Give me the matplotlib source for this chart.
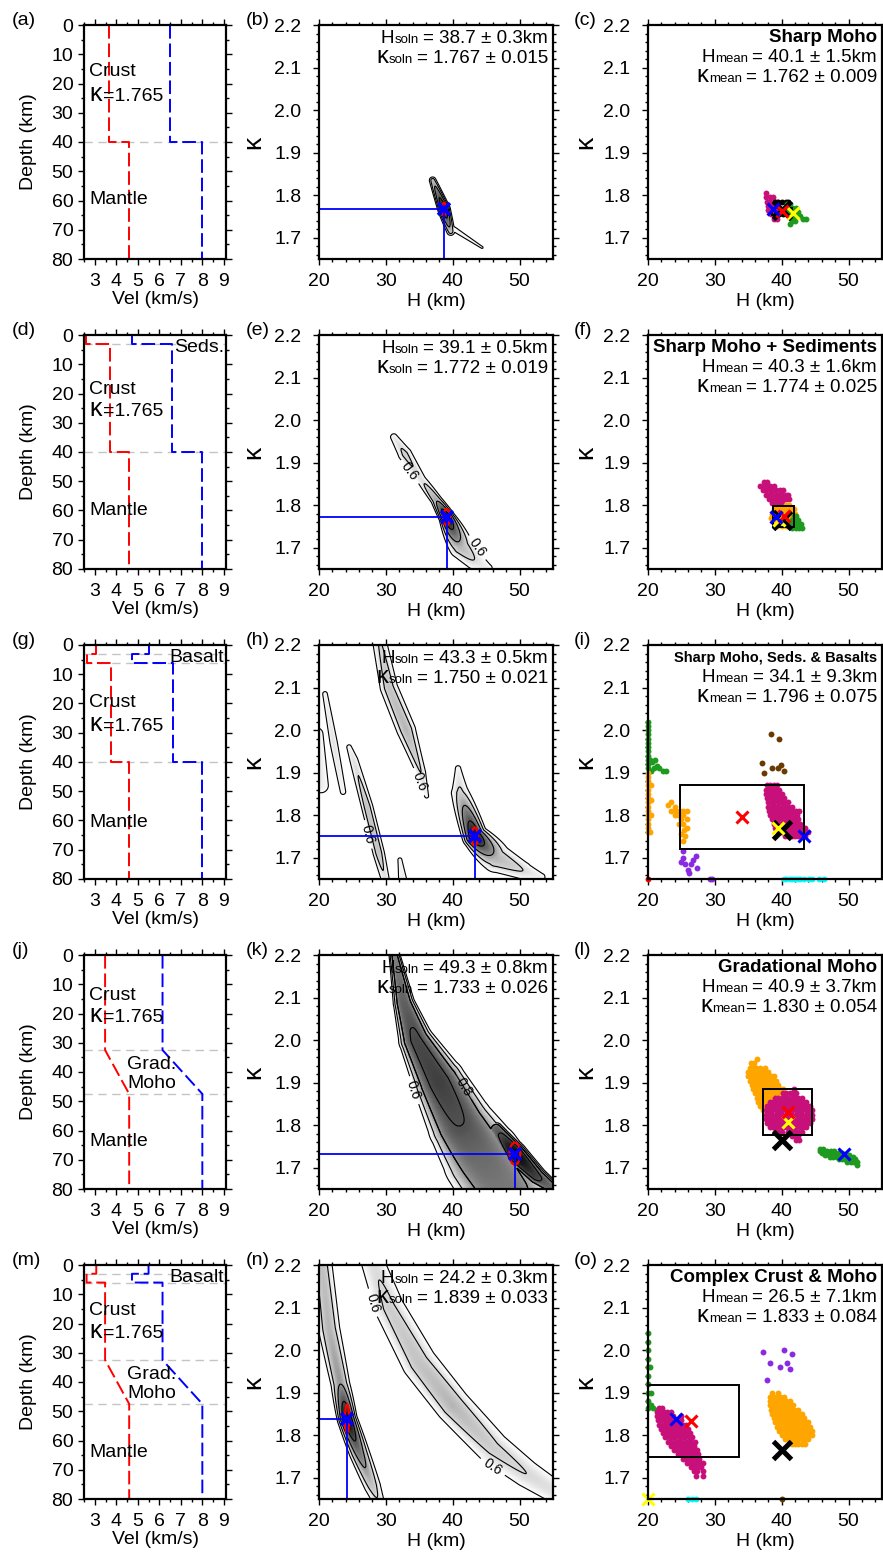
import numpy as np
import matplotlib
matplotlib.use('Agg')
import matplotlib.pyplot as plt
from matplotlib.transforms import offset_copy
from matplotlib.patches import Ellipse, Rectangle
from matplotlib.ticker import MultipleLocator, FormatStrFormatter

plt.rcParams['font.family'] = ['Liberation Sans', 'DejaVu Sans']

# ---------------- column 1 : velocity models (depth, Vs, Vp) ----------------
vs_a_z = [0, 40, 40, 80];                 vs_a_v = [3.68, 3.68, 4.6, 4.6]
vp_a_v = [6.5, 6.5, 8.0, 8.0]
vs_d_z = [0, 3, 3, 40, 40, 80];           vs_d_v = [2.6, 2.6, 3.72, 3.72, 4.6, 4.6]
vp_d_v = [4.73, 4.73, 6.6, 6.6, 8.0, 8.0]
vs_g_z = [0, 3, 3, 6, 6, 40, 40, 80];     vs_g_v = [3.07, 3.07, 2.62, 2.62, 3.75, 3.75, 4.6, 4.6]
vp_g_v = [5.5, 5.5, 4.73, 4.73, 6.63, 6.63, 8.0, 8.0]
vs_j_z = [0, 32.5, 47.5, 80];             vs_j_v = [3.48, 3.48, 4.6, 4.6]
vp_j_v = [6.15, 6.15, 8.0, 8.0]
vs_m_z = [0, 3, 3, 6, 6, 32.5, 47.5, 80]; vs_m_v = [3.07, 3.07, 2.62, 2.62, 3.48, 3.48, 4.6, 4.6]
vp_m_v = [5.5, 5.5, 4.73, 4.73, 6.15, 6.15, 8.0, 8.0]
interfaces = [[40], [3, 40], [3, 6, 40], [32.5, 47.5], [3, 6, 32.5, 47.5]]
layer_tags = ['', 'Seds.', 'Basalt', '', 'Basalt']
crust_z = [16, 18.5, 19.6, 13.7, 15.4]
kappa_z = [23.6, 25.3, 27.0, 20.5, 22.6]
mantle_z = [59.8, 60.0, 60.6, 63.8, 64.0]

# ---------------- column 2 : H-kappa stacks ----------------
H_soln = [38.7, 39.1, 43.3, 49.3, 24.2]
H_soln_err = [0.3, 0.5, 0.5, 0.8, 0.3]
k_soln = [1.767, 1.772, 1.750, 1.733, 1.839]
k_soln_err = [0.015, 0.019, 0.021, 0.026, 0.033]

# stack ridges: nodes (H, kappa, peak amplitude, half-width of the 0.6 contour)
ridges_b = [[(37.0, 1.835, 0.75, 0.5), (38.7, 1.767, 1.0, 0.95), (39.7, 1.715, 0.75, 0.6)],
            [(40.2, 1.72, 0.63, 0.35), (44.4, 1.677, 0.62, 0.15)]]
ridges_e = [[(31.2, 1.96, 0.66, 0.5), (32.85, 1.92, 0.72, 1.0), (35.3, 1.86, 0.68, 0.65),
             (37.5, 1.813, 0.78, 0.8), (39.1, 1.772, 1.0, 1.2), (41.25, 1.703, 0.76, 1.8),
             (43.2, 1.672, 0.70, 1.4), (45.3, 1.652, 0.64, 0.6)]]
ridges_h = [[(19.6, 1.99, 0.66, 1.0), (20.3, 1.87, 0.66, 1.1)],
            [(20.9, 2.085, 0.64, 0.35), (22.2, 1.97, 0.68, 0.55), (23.6, 1.855, 0.64, 0.4)],
            [(24.5, 1.96, 0.64, 0.35), (25.2, 1.93, 0.68, 0.6), (27.2, 1.82, 0.74, 0.85),
             (28.95, 1.71, 0.74, 0.85), (29.9, 1.65, 0.68, 0.6)],
            [(28.9, 2.22, 0.70, 1.0), (30.45, 2.10, 0.74, 1.3), (33.05, 2.0, 0.76, 1.4),
             (35.25, 1.90, 0.70, 0.7), (36.1, 1.845, 0.64, 0.3)],
            [(40.8, 1.91, 0.64, 0.4), (41.1, 1.852, 0.72, 1.3), (43.3, 1.75, 1.0, 1.9),
             (46.5, 1.70, 0.76, 2.2), (50.5, 1.67, 0.70, 1.3), (53.3, 1.655, 0.64, 0.5)],
            [(32.1, 1.695, 0.64, 0.3), (32.5, 1.65, 0.66, 0.6)]]
ridges_k = [[(31.05, 2.22, 0.82, 0.7), (32.7, 2.087, 0.88, 1.6), (34.5, 2.0, 0.91, 2.6), (38.0, 1.90, 0.92, 4.0),
             (41.25, 1.80, 0.90, 5.0), (44.5, 1.72, 0.86, 6.0), (48.0, 1.64, 0.84, 6.3)],
            [(46.5, 1.79, 0.88, 1.2), (49.3, 1.733, 1.0, 1.8), (52.5, 1.68, 0.92, 1.5), (55.5, 1.645, 0.84, 1.0)]]
ridges_n = [[(20.3, 2.22, 0.74, 1.5), (21.5, 2.05, 0.76, 1.6), (23.2, 1.92, 0.80, 1.4), (24.2, 1.839, 1.0, 1.5),
             (26.0, 1.76, 0.85, 1.5), (28.0, 1.68, 0.74, 1.2), (29.0, 1.64, 0.68, 0.8)],
            [(27.5, 2.23, 0.68, 1.6), (30.5, 2.10, 0.72, 2.2), (35.0, 1.97, 0.74, 2.6), (40.0, 1.87, 0.76, 2.6),
             (46.0, 1.77, 0.72, 2.4), (51.0, 1.71, 0.70, 2.0), (56.0, 1.66, 0.68, 1.6)]]
stack_ridges = [ridges_b, ridges_e, ridges_h, ridges_k, ridges_n]
ridge_shape = [2, 2, 2, 3, 2]
label_06 = [[], [(33.3, 1.875), (43.3, 1.696)], [(35.0, 1.879), (27.1, 1.754)], [(32.6, 1.875)],
            [(28.4, 2.113), (44.2, 1.683)]]
label_08 = [[], [], [], [(41.8, 1.891)], []]

# ---------------- column 3 : bootstrap clouds ----------------
titles = ['Sharp Moho', 'Sharp Moho + Sediments', 'Sharp Moho, Seds. & Basalts', 'Gradational Moho', 'Complex Crust & Moho']
H_mean = [40.1, 40.3, 34.1, 40.9, 26.5]
H_std = [1.5, 1.6, 9.3, 3.7, 7.1]
k_mean = [1.762, 1.774, 1.796, 1.830, 1.833]
k_std = [0.009, 0.025, 0.075, 0.054, 0.084]
k_eq_space = [True, True, True, False, True]
H_true, k_true = 40.0, 1.765
yellow_x = [(41.7, 1.758), (39.6, 1.765), (39.5, 1.77), (40.9, 1.808), (20.0, 1.65)]

# clouds given as rows: (kappa, [H values])
c_magenta = [(1.805, [37.7]), (1.795, [37.7, 38.2, 38.7]), (1.785, [37.8, 38.3, 38.8, 39.3]),
             (1.775, [37.9, 38.4, 38.9, 39.4]), (1.765, [38.0, 38.5, 39.0, 39.5]),
             (1.755, [38.4, 38.9, 39.4]), (1.745, [38.9, 39.3])]
c_black = [(1.783, [39.0, 39.4, 40.0, 40.6, 41.0]), (1.755, [39.2, 39.6, 40.2, 40.8])]
c_green = [(1.78, [40.8, 41.3]), (1.77, [40.6, 41.1, 41.6, 42.1]), (1.76, [40.9, 41.4, 41.9, 42.4]),
           (1.75, [41.2, 41.7, 42.2, 42.7]), (1.745, [43.2, 43.7]), (1.74, [41.5, 42.0]), (1.733, [41.3])]

f_magenta = [(1.855, [37.3, 37.8]), (1.845, [36.8, 37.3, 37.8, 38.3, 38.8]),
             (1.835, [37.2, 37.7, 38.2, 38.7, 39.2, 39.7, 40.2]),
             (1.825, [37.6, 38.1, 38.6, 39.1, 39.6, 40.1, 40.6, 41.0]),
             (1.815, [38.1, 38.6, 39.1, 39.6, 40.1, 40.6, 41.1]), (1.805, [38.6, 39.1, 39.6, 40.1]),
             (1.795, [39.3, 39.8])]
f_orange = [(1.80, [40.6, 41.1]), (1.79, [38.9, 39.4, 39.9, 40.4, 40.9, 41.4, 41.8]),
            (1.78, [38.5, 39.0, 39.5, 40.0, 40.5, 41.0, 41.5, 42.0]),
            (1.77, [38.4, 38.9, 39.4, 39.9, 40.4, 40.9, 41.4, 41.9]),
            (1.76, [38.8, 39.3, 39.8, 40.3, 40.8, 41.3]), (1.752, [39.3, 40.0, 40.7])]
f_green = [(1.775, [41.9, 42.2]), (1.765, [41.5, 42.0, 42.5]), (1.755, [41.0, 41.5, 42.0, 42.5, 42.9]),
           (1.747, [41.6, 42.1, 42.6, 43.0])]
f_yellow = [(1.765, [39.7, 40.2]), (1.755, [39.3, 39.8])]

i_green = [(2.02, [20]), (2.01, [20]), (2.0, [20]), (1.99, [20]), (1.98, [20]), (1.97, [20]), (1.96, [20]),
           (1.95, [20]), (1.94, [20]), (1.93, [20, 20.3, 21.0]), (1.925, [20.6]), (1.92, [20]),
           (1.915, [21.3]), (1.91, [20, 20.9, 21.7]), (1.905, [20.5, 22.2, 22.7])]
i_orange = [(1.90, [20]), (1.89, [20]), (1.88, [20]), (1.87, [20, 20.5]), (1.86, [20]), (1.85, [20]),
            (1.84, [20]), (1.835, [20.4]), (1.83, [20, 23.5]), (1.825, [23.0]), (1.82, [20, 24.0]),
            (1.81, [20, 23.5, 24.2, 24.8, 25.3, 25.8]), (1.80, [20, 20.5, 24.0, 24.5, 25.3]),
            (1.79, [20, 25.0, 25.8]), (1.78, [20, 25.3, 24.6]), (1.77, [20, 25.9]), (1.765, [25.4]),
            (1.76, [20, 20.3]), (1.755, [25.0]), (1.75, [25.6]), (1.74, [25.2])]
i_purple = [(1.715, [25.2]), (1.70, [25.3]), (1.69, [25.0]), (1.685, [25.6, 26.4]), (1.67, [26.0]),
            (1.695, [26.8]), (1.705, [27.2]), (1.675, [27.4]), (1.665, [26.2]), (1.65, [29.2, 29.6])]
i_red = [(1.65, [20])]
i_cyan = [(1.65, [40.3, 40.7, 41.2, 41.6, 42.0, 42.4, 42.8, 43.3, 44.1, 44.5, 45.6, 46.3])]
i_brown = [(1.99, [38.4]), (1.978, [39.6]), (1.923, [37.1]), (1.91, [38.6]), (1.912, [39.5]),
           (1.918, [39.9]), (1.905, [40.3]), (1.90, [37.4])]
i_magenta = [(1.87, [37.8, 38.3, 38.8, 39.3]), (1.86, [37.6, 38.1, 38.6, 39.1, 39.6]),
             (1.85, [37.6, 38.1, 38.6, 39.1, 39.6, 40.1]), (1.84, [37.8, 38.3, 38.8, 39.3, 39.8, 40.3]),
             (1.83, [37.9, 38.4, 38.9, 39.4, 39.9, 40.4, 40.9]),
             (1.82, [38.0, 38.5, 39.0, 39.5, 40.0, 40.5, 41.0, 41.5]),
             (1.81, [38.1, 38.6, 39.1, 39.6, 40.1, 40.6, 41.1, 41.6, 42.1, 42.6]),
             (1.80, [38.3, 38.8, 39.3, 39.8, 40.3, 40.8, 41.3, 41.8, 42.3]),
             (1.79, [38.5, 39.0, 39.5, 40.0, 40.5, 41.0, 41.5, 42.0, 42.5]),
             (1.78, [38.8, 39.3, 39.8, 40.3, 40.8, 41.3, 41.8, 42.3, 42.8]),
             (1.77, [39.0, 39.5, 40.0, 40.5, 41.0, 41.5, 42.0, 42.5, 43.0, 43.5]),
             (1.76, [39.5, 40.0, 40.5, 41.0, 41.5, 42.0, 42.5, 43.0, 43.5, 44.0]),
             (1.752, [40.5, 41.0, 41.5, 42.0, 42.5, 43.0, 43.5])]

l_orange = [(1.955, [36.3]), (1.945, [35.4, 35.9]), (1.935, [35.2, 35.7, 36.2, 36.7, 37.5]),
            (1.925, [35.0, 35.5, 36.0, 36.5, 37.0, 37.5, 38.0]),
            (1.915, [34.9, 35.4, 35.9, 36.4, 36.9, 37.4, 37.9, 38.4, 38.9]),
            (1.905, [35.2, 35.7, 36.2, 36.7, 37.2, 37.7, 38.2, 38.7, 39.2]),
            (1.895, [35.5, 36.0, 36.5, 37.0, 37.5, 38.0, 38.5, 39.0, 39.5]),
            (1.885, [35.7, 36.2, 36.7, 37.2, 37.7, 38.2, 38.7, 39.2, 39.7, 40.2]),
            (1.875, [36.0, 36.5, 37.0, 37.5, 38.0, 38.5, 39.0, 39.5, 40.0]),
            (1.865, [36.3, 36.8, 37.3, 37.8, 38.3]), (1.855, [36.5, 37.0, 37.5]), (1.845, [36.8, 37.3]),
            (1.835, [37.2])]
l_magenta = [(1.885, [41.8]), (1.875, [40.2, 40.7, 41.2, 41.7, 42.2]),
             (1.865, [39.0, 39.5, 40.0, 40.5, 41.0, 41.5, 42.0, 42.5, 43.0]),
             (1.855, [38.2, 38.7, 39.2, 39.7, 40.2, 40.7, 41.2, 41.7, 42.2, 42.7, 43.2, 43.7]),
             (1.845, [37.8, 38.3, 38.8, 39.3, 39.8, 40.3, 40.8, 41.3, 41.8, 42.3, 42.8, 43.3, 43.8, 44.3]),
             (1.835, [37.6, 38.1, 38.6, 39.1, 39.6, 40.1, 40.6, 41.1, 41.6, 42.1, 42.6, 43.1, 43.6, 44.1, 44.6]),
             (1.825, [37.6, 38.1, 38.6, 39.1, 39.6, 40.1, 40.6, 41.1, 41.6, 42.1, 42.6, 43.1, 43.6, 44.1, 44.6]),
             (1.815, [37.6, 38.1, 38.6, 39.1, 39.6, 40.1, 40.6, 41.1, 41.6, 42.1, 42.6, 43.1, 43.6, 44.1, 44.6]),
             (1.805, [37.8, 38.3, 38.8, 39.3, 39.8, 40.3, 40.8, 41.3, 41.8, 42.3, 42.8, 43.3, 43.8, 44.3]),
             (1.795, [38.2, 38.7, 39.2, 39.7, 40.2, 40.7, 41.2, 41.7, 42.2, 42.7, 43.2, 43.7]),
             (1.785, [39.0, 39.5, 40.0, 41.0, 41.5, 42.0, 42.5, 43.0]), (1.775, [41.5, 42.0, 42.5]),
             (1.765, [42.2, 42.6])]
l_green = [(1.745, [45.7, 46.2]), (1.74, [45.8, 46.3, 46.8, 47.3, 47.8]),
           (1.735, [46.0, 46.5, 47.0, 47.5, 48.0, 48.5, 49.0]),
           (1.73, [46.5, 47.0, 47.5, 48.0, 48.5, 49.0, 49.5, 50.0]),
           (1.725, [47.2, 47.7, 48.2, 48.7, 49.2, 49.7, 50.2, 50.7]),
           (1.72, [48.5, 49.0, 49.5, 50.0, 50.5, 51.0]), (1.713, [49.8, 50.3, 50.8, 51.3]), (1.707, [51.2])]

o_green = [(2.04, [20]), (2.02, [20]), (2.0, [20]), (1.98, [20]), (1.96, [20, 20.3]), (1.94, [20]),
           (1.92, [20]), (1.90, [20, 20.5]), (1.88, [20]), (1.87, [20.4]), (1.865, [20, 20.8]),
           (1.86, [21.3]), (1.855, [21.8])]
o_magenta = [(1.865, [21.6, 22.1]), (1.855, [21.4, 21.9, 22.4, 22.9, 23.4]),
             (1.845, [21.3, 21.8, 22.3, 22.8, 23.3, 23.8, 25.0]),
             (1.835, [21.5, 22.0, 22.5, 23.0, 23.5, 24.0, 24.5, 25.0]),
             (1.825, [21.7, 22.2, 22.7, 23.2, 23.7, 24.2, 24.7, 25.2, 25.7]),
             (1.815, [22.0, 22.5, 23.0, 23.5, 24.0, 24.5, 25.0, 25.5, 26.0]),
             (1.805, [22.3, 22.8, 23.3, 23.8, 24.3, 24.8, 25.3, 25.8, 26.3]),
             (1.795, [22.6, 23.1, 23.6, 24.1, 24.6, 25.1, 25.6, 26.1, 26.6]),
             (1.785, [23.0, 23.5, 24.0, 24.5, 25.0, 25.5, 26.0, 26.5, 27.0]),
             (1.775, [23.4, 23.9, 24.4, 24.9, 25.4, 25.9, 26.4, 26.9]),
             (1.765, [23.9, 24.4, 24.9, 25.4, 25.9, 26.4, 26.9, 27.4]),
             (1.755, [24.5, 25.0, 25.5, 26.0, 26.5, 27.0, 27.5]), (1.745, [25.2, 25.7, 26.2, 26.7, 27.2, 27.7]),
             (1.735, [25.8, 26.3, 26.8, 27.3, 27.8, 28.2]), (1.725, [26.4, 26.9, 27.4, 27.9]),
             (1.715, [26.9, 27.4, 28.2]), (1.705, [27.2, 28.3])]
o_purple = [(1.995, [37.2]), (1.97, [38.3, 40.8]), (2.0, [40.4]), (1.99, [41.5]), (1.955, [41.3]),
            (1.93, [37.8]), (1.96, [39.8])]
o_orange = [(1.90, [38.6, 39.4]), (1.89, [38.3, 38.8, 39.3, 39.8, 40.3]),
            (1.88, [38.2, 38.7, 39.2, 39.7, 40.2, 40.7, 41.2]), (1.87, [38.2, 38.7, 39.2, 39.7, 40.2, 40.7, 41.2, 41.7]),
            (1.86, [38.4, 38.9, 39.4, 39.9, 40.4, 40.9, 41.4, 41.9, 42.4]),
            (1.85, [38.6, 39.1, 39.6, 40.1, 40.6, 41.1, 41.6, 42.1, 42.6, 43.1]),
            (1.84, [38.8, 39.3, 39.8, 40.3, 40.8, 41.3, 41.8, 42.3, 42.8, 43.3]),
            (1.83, [39.0, 39.5, 40.0, 40.5, 41.0, 41.5, 42.0, 42.5, 43.0, 43.5, 44.0]),
            (1.82, [39.3, 39.8, 40.3, 40.8, 41.3, 41.8, 42.3, 42.8, 43.3, 43.8, 44.3]),
            (1.81, [39.6, 40.1, 40.6, 41.1, 41.6, 42.1, 42.6, 43.1, 43.6, 44.1, 44.6]),
            (1.80, [40.0, 40.5, 41.0, 41.5, 42.0, 42.5, 43.0, 43.5, 44.0, 44.5]),
            (1.79, [40.5, 41.0, 41.5, 42.0, 42.5, 43.0, 43.5, 44.0]), (1.78, [41.5, 42.0, 42.5, 43.0, 43.5])]
o_cyan = [(1.65, [26.0, 26.6, 27.2])]
o_brown = [(1.65, [40.0])]

MAG, GRN, ORG, BRN, PUR, CYN = '#c8107a', '#1e9b1e', '#ffa500', '#6b3a00', '#8a2be2', '#00ffff'
scatter_sets = [
    [(c_magenta, MAG), (c_black, 'k'), (c_green, GRN)],
    [(f_magenta, MAG), (f_orange, ORG), (f_green, GRN), (f_yellow, 'yellow')],
    [(i_green, GRN), (i_orange, ORG), (i_purple, PUR), (i_brown, BRN), (i_magenta, MAG), (i_cyan, CYN), (i_red, 'red')],
    [(l_orange, ORG), (l_magenta, MAG), (l_green, GRN)],
    [(o_green, GRN), (o_magenta, MAG), (o_purple, PUR), (o_orange, ORG), (o_cyan, CYN), (o_brown, BRN)],
]

vs_z = [vs_a_z, vs_d_z, vs_g_z, vs_j_z, vs_m_z]
vs_v = [vs_a_v, vs_d_v, vs_g_v, vs_j_v, vs_m_v]
vp_v = [vp_a_v, vp_d_v, vp_g_v, vp_j_v, vp_m_v]

# ---------------- figure ----------------
FW, FH = 883, 1556
fig = plt.figure(figsize=(FW / 100, FH / 100), dpi=100)
renderer = fig.canvas.get_renderer()
row_top = [25, 335, 645, 955, 1265]
ROWH = 234
FS = 14


def add_ax(x0, y0, w, h):
    return fig.add_axes([x0 / FW, 1 - (y0 + h) / FH, w / FW, h / FH])


def frame(ax, ypad):
    ax.tick_params(which='both', direction='out', top=True, right=True, width=1.0, labelsize=FS)
    ax.tick_params(which='major', length=4.2)
    ax.tick_params(which='minor', length=2.0)
    ax.tick_params(axis='x', pad=6)
    ax.tick_params(axis='y', pad=ypad)
    for s in ax.spines.values():
        s.set_linewidth(1.6)
        s.set_zorder(20)


def rich(ax, x, y, pieces, trans, ha='right', dx=0, dy=0):
    seq = list(reversed(pieces)) if ha == 'right' else pieces
    off = dx
    for txt, size, weight, gap in seq:
        if ha == 'left':
            off += gap
        tr = offset_copy(trans, fig=fig, x=off, y=dy, units='dots')
        t = ax.text(x, y, txt, transform=tr, ha=ha, va='baseline', fontsize=size,
                    fontweight=weight, zorder=30)
        w = t.get_window_extent(renderer).width
        off = off - w - gap if ha == 'right' else off + w


def ridge_field(HH, KK, ridges, p=2, thr=0.6):
    S = 63.6  # kappa -> km so that the panel is isotropic
    Z = np.zeros_like(HH)
    for nodes in ridges:
        for (h0, k0, a0, w0), (h1, k1, a1, w1) in zip(nodes[:-1], nodes[1:]):
            s0 = w0 / (2 * np.log(a0 / thr)) ** (1 / p)
            s1 = w1 / (2 * np.log(a1 / thr)) ** (1 / p)
            vx, vy = h1 - h0, (k1 - k0) * S
            t = ((HH - h0) * vx + (KK - k0) * S * vy) / (vx * vx + vy * vy)
            t = np.clip(t, 0, 1)
            d = np.hypot(HH - h0 - t * vx, (KK - k0) * S - t * vy)
            amp = a0 + t * (a1 - a0)
            sig = s0 + t * (s1 - s0)
            Z = np.maximum(Z, amp * np.exp(-(d / sig) ** p / 2))
    return Z


def pts(rows):
    return np.array([(h, k) for k, hs in rows for h in hs])


hg = np.linspace(20, 55, 351)
kg = np.linspace(1.65, 2.2, 276)
HH, KK = np.meshgrid(hg, kg)
letters = 'abcdefghijklmno'

for r in range(5):
    top = row_top[r]
    # ---- column 1 ----
    ax = add_ax(84, top, 142, ROWH)
    for z in interfaces[r]:
        ax.axhline(z, color='#c4c4c4', lw=1.0, ls=(0, (6, 4)), zorder=1)
    ax.plot(vs_v[r], vs_z[r], color='red', lw=1.4, ls=(0, (7, 2.5)), zorder=3)
    ax.plot(vp_v[r], vs_z[r], color='blue', lw=1.4, ls=(0, (7, 2.5)), zorder=3)
    ax.set_xlim(2.5, 9.1)
    ax.set_ylim(80, 0)
    ax.xaxis.set_major_locator(MultipleLocator(1))
    ax.xaxis.set_minor_locator(MultipleLocator(0.5))
    ax.yaxis.set_major_locator(MultipleLocator(10))
    ax.yaxis.set_minor_locator(MultipleLocator(5))
    frame(ax, 3.5)
    ax.set_ylabel('Depth (km)', fontsize=FS)
    ax.yaxis.set_label_coords(-0.33, 0.5)
    ax.set_xlabel('Vel (km/s)', fontsize=FS)
    ax.xaxis.set_label_coords(0.5, -0.135)
    ax.text(2.75, crust_z[r], 'Crust', fontsize=FS, va='center', ha='left')
    rich(ax, 2.75, kappa_z[r] + 2.3, [('κ', 18, 'normal', 0), ('=1.765', FS, 'normal', 1)],
         ax.transData, ha='left')
    ax.text(2.75, mantle_z[r], 'Mantle', fontsize=FS, va='center', ha='left')
    if layer_tags[r]:
        ax.text(0.985, 4.3, layer_tags[r], fontsize=FS, va='center', ha='right',
                transform=ax.get_yaxis_transform())
    if 32.5 in interfaces[r]:
        ax.text(4.5, 37.3, 'Grad.', fontsize=FS, va='center', ha='left')
        ax.text(4.5, 44.0, 'Moho', fontsize=FS, va='center', ha='left')
    fig.text(12 / FW, 1 - top / FH, '(%s)' % letters[3 * r], fontsize=FS, va='baseline', ha='left')

    # ---- column 2 ----
    ax = add_ax(319, top, 234, ROWH)
    Z = ridge_field(HH, KK, stack_ridges[r], p=ridge_shape[r])
    Zm = np.ma.masked_less(Z, 0.6)
    ax.pcolormesh(hg, kg, Zm, cmap='Greys', vmin=0.6, vmax=1.0, shading='auto', zorder=1)
    ax.contour(hg, kg, Z, levels=[0.7, 0.8, 0.9], colors='k', linewidths=0.8, zorder=2)
    c6 = ax.contour(hg, kg, Z, levels=[0.6], colors='k', linewidths=0.8, zorder=2)
    if label_06[r]:
        ax.clabel(c6, fmt='%.1f', fontsize=10, inline=True, manual=label_06[r])
    if label_08[r]:
        c8 = ax.contour(hg, kg, Z, levels=[0.8], colors='k', linewidths=0.8, zorder=2)
        ax.clabel(c8, fmt='%.1f', fontsize=10, inline=True, manual=label_08[r])
    ax.add_patch(Ellipse((H_soln[r], k_soln[r]), 2 * H_soln_err[r], 2 * k_soln_err[r],
                         fill=False, ec='red', lw=1.6, zorder=4))
    ax.plot([20, H_soln[r]], [k_soln[r], k_soln[r]], color='blue', lw=1.3, zorder=5)
    ax.plot([H_soln[r], H_soln[r]], [1.65, k_soln[r]], color='blue', lw=1.3, zorder=5)
    ax.plot(H_soln[r], k_soln[r], 'x', color='blue', ms=8, mew=2.6, zorder=6)
    ax.set_xlim(20, 55)
    ax.set_ylim(1.65, 2.2)
    ax.xaxis.set_major_locator(MultipleLocator(10))
    ax.xaxis.set_minor_locator(MultipleLocator(2))
    ax.yaxis.set_major_locator(MultipleLocator(0.1))
    ax.yaxis.set_minor_locator(MultipleLocator(0.02))
    ax.yaxis.set_major_formatter(FormatStrFormatter('%.1f'))
    frame(ax, 8.4)
    ax.set_ylabel('κ', fontsize=19)
    ax.yaxis.set_label_coords(-0.23, 0.5)
    ax.set_xlabel('H (km)', fontsize=FS)
    ax.xaxis.set_label_coords(0.5, -0.145)
    rich(ax, 1, 1, [('H', 13.5, 'normal', 0), ('soln', 9.5, 'normal', 0.5),
                    ('= %.1f ± %.1fkm' % (H_soln[r], H_soln_err[r]), 13.5, 'normal', 4)],
         ax.transAxes, dx=-5, dy=-18)
    rich(ax, 1, 1, [('κ', 17, 'normal', 0), ('soln', 9.5, 'normal', 0.5),
                    ('= %.3f ± %.3f' % (k_soln[r], k_soln_err[r]), 13.5, 'normal', 4)],
         ax.transAxes, dx=-5, dy=-38)
    fig.text(246 / FW, 1 - top / FH, '(%s)' % letters[3 * r + 1], fontsize=FS, va='baseline', ha='left')

    # ---- column 3 ----
    ax = add_ax(648, top, 234, ROWH)
    for rows, col in scatter_sets[r]:
        arr = pts(rows)
        ax.scatter(arr[:, 0], arr[:, 1], s=18, color=col, linewidths=0, zorder=3, clip_on=False)
    ax.add_patch(Rectangle((H_mean[r] - H_std[r], k_mean[r] - k_std[r]), 2 * H_std[r], 2 * k_std[r],
                           fill=False, ec='k', lw=1.4, zorder=4))
    ax.plot(H_true, k_true, 'x', color='k', ms=13, mew=3.6, zorder=5, clip_on=False)
    ax.plot(*yellow_x[r], 'x', color='yellow', ms=9, mew=2.2, zorder=6, clip_on=False)
    ax.plot(H_mean[r], k_mean[r], 'x', color='red', ms=9, mew=2.2, zorder=7, clip_on=False)
    ax.plot(H_soln[r], k_soln[r], 'x', color='blue', ms=9, mew=2.2, zorder=8, clip_on=False)
    ax.set_xlim(20, 55)
    ax.set_ylim(1.65, 2.2)
    ax.xaxis.set_major_locator(MultipleLocator(10))
    ax.xaxis.set_minor_locator(MultipleLocator(2))
    ax.yaxis.set_major_locator(MultipleLocator(0.1))
    ax.yaxis.set_minor_locator(MultipleLocator(0.02))
    ax.yaxis.set_major_formatter(FormatStrFormatter('%.1f'))
    frame(ax, 8.4)
    ax.set_ylabel('κ', fontsize=19)
    ax.yaxis.set_label_coords(-0.218, 0.5)
    ax.set_xlabel('H (km)', fontsize=FS)
    ax.xaxis.set_label_coords(0.5, -0.145)
    tsize = 10.5 if r == 2 else 13.5
    rich(ax, 1, 1, [(titles[r], tsize, 'bold', 0)], ax.transAxes, dx=-5, dy=-17)
    rich(ax, 1, 1, [('H', 13.5, 'normal', 0), ('mean', 9.5, 'normal', 0.5),
                    ('= %.1f ± %.1fkm' % (H_mean[r], H_std[r]), 13.5, 'normal', 4)],
         ax.transAxes, dx=-5, dy=-37)
    rich(ax, 1, 1, [('κ', 17, 'normal', 0), ('mean', 9.5, 'normal', 0.5),
                    ('= %.3f ± %.3f' % (k_mean[r], k_std[r]), 13.5, 'normal', 4 if k_eq_space[r] else 0.5)],
         ax.transAxes, dx=-5, dy=-57)
    fig.text(574 / FW, 1 - top / FH, '(%s)' % letters[3 * r + 2], fontsize=FS, va='baseline', ha='left')

fig.savefig('out.png', dpi=100)
